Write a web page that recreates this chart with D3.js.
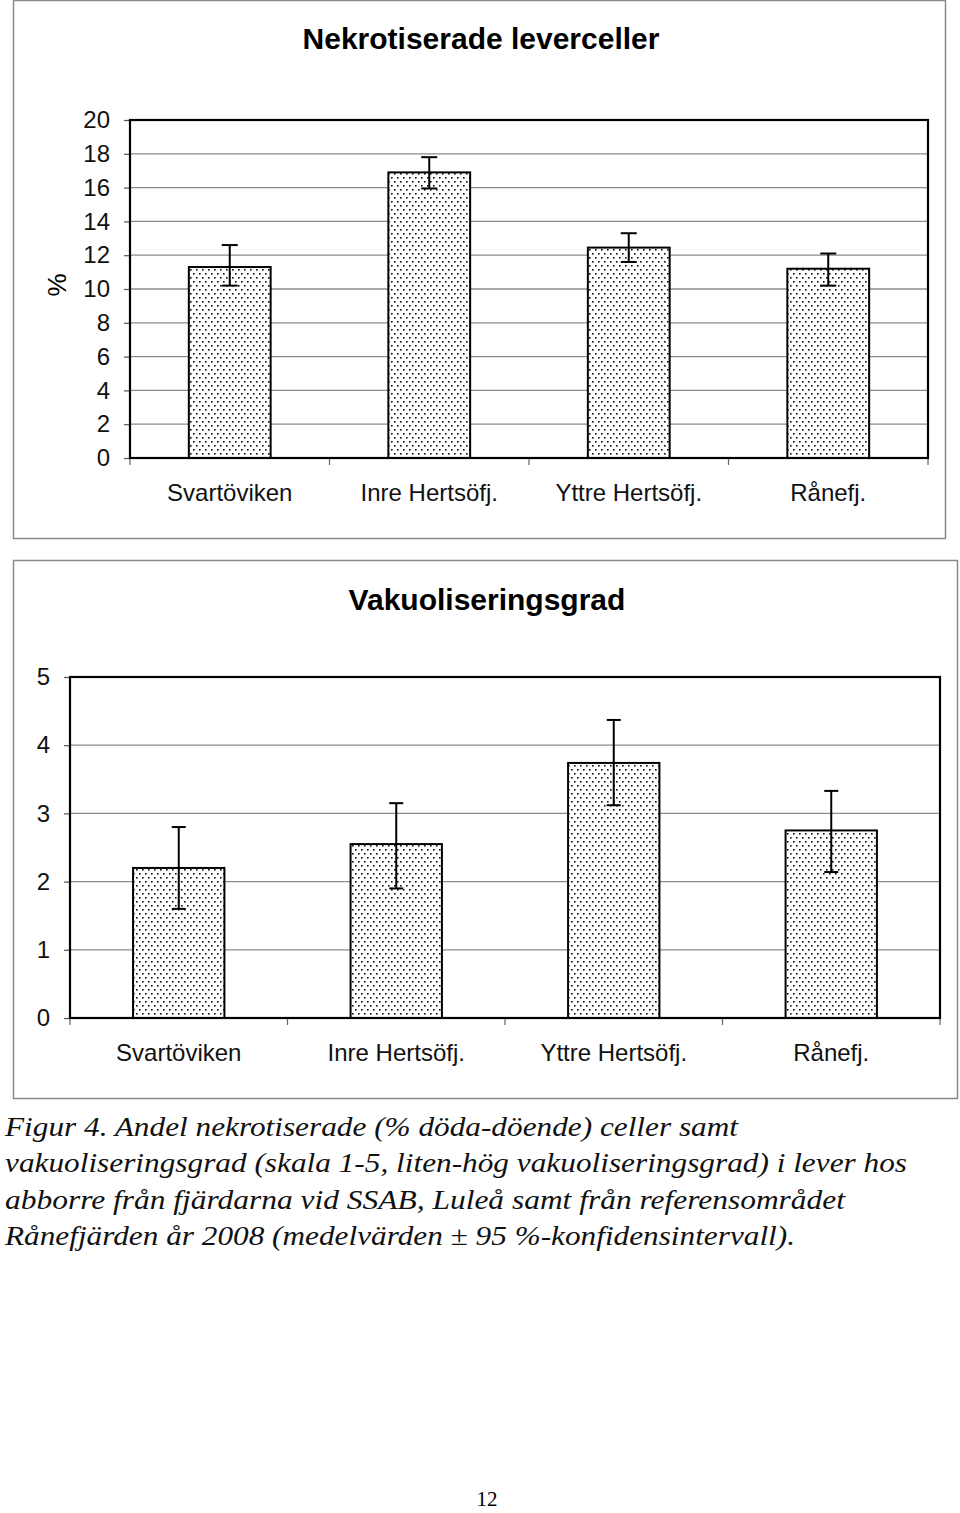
<!DOCTYPE html>
<html>
<head>
<meta charset="utf-8">
<script src="https://cdn.jsdelivr.net/npm/d3@7"></script>
<style>
  html, body { margin: 0; padding: 0; background: #fff; }
  svg { display: block; }
</style>
</head>
<body>
<svg id="fig" width="960" height="1513"></svg>
<script>
// ---------- DATA ----------
const categories = ["Svartöviken", "Inre Hertsöfj.", "Yttre Hertsöfj.", "Rånefj."];

const nekrosTitle = "Nekrotiserade leverceller";
const nekrosMean = [11.3, 16.9, 12.45, 11.2];
const nekrosLow  = [10.2, 15.95, 11.6, 10.2];
const nekrosHigh = [12.6, 17.8, 13.3, 12.1];
const nekrosTicks = [0, 2, 4, 6, 8, 10, 12, 14, 16, 18, 20];

const vakTitle = "Vakuoliseringsgrad";
const vakMean = [2.2, 2.55, 3.74, 2.75];
const vakLow  = [1.6, 1.9, 3.12, 2.14];
const vakHigh = [2.8, 3.15, 4.37, 3.33];
const vakTicks = [0, 1, 2, 3, 4, 5];

const captionLines = [
  "Figur 4. Andel nekrotiserade (% döda-döende) celler samt",
  "vakuoliseringsgrad (skala 1-5, liten-hög vakuoliseringsgrad) i lever hos",
  "abborre från fjärdarna vid SSAB, Luleå samt från referensområdet",
  "Rånefjärden år 2008 (medelvärden ± 95 %-konfidensintervall)."
];
const captionWidths = [733, 902, 840, 790];
const pageNumber = "12";

// ---------- DRAW ----------
const svg = d3.select("#fig");
const sans = "'Liberation Sans', Arial, sans-serif";
const serif = "'Liberation Serif', 'Times New Roman', serif";

const defs = svg.append("defs");
const pat = defs.append("pattern")
  .attr("id", "dots").attr("patternUnits", "userSpaceOnUse")
  .attr("width", 6).attr("height", 8);
pat.append("rect").attr("width", 6).attr("height", 8).attr("fill", "#fff");
pat.append("rect").attr("x", 1).attr("y", 1).attr("width", 1.6).attr("height", 1.6).attr("fill", "#111");
pat.append("rect").attr("x", 4).attr("y", 5).attr("width", 1.6).attr("height", 1.6).attr("fill", "#111");

function drawChart(cfg) {
  const g = svg.append("g");
  g.append("rect")
    .attr("x", cfg.frame[0] + 0.5).attr("y", cfg.frame[1] + 0.5)
    .attr("width", cfg.frame[2] - cfg.frame[0]).attr("height", cfg.frame[3] - cfg.frame[1])
    .attr("fill", "#fff").attr("stroke", "#8a8a8a").attr("stroke-width", 1.5);

  g.append("text")
    .attr("x", cfg.titleX).attr("y", cfg.titleY)
    .attr("text-anchor", "middle")
    .attr("font-family", sans).attr("font-weight", "bold")
    .attr("font-size", cfg.titleSize)
    .text(cfg.title);

  const x = d3.scaleBand().domain(categories).range([cfg.left, cfg.right]).paddingInner(0).paddingOuter(0);
  const y = d3.scaleLinear().domain([0, d3.max(cfg.ticks)]).range([cfg.bottom, cfg.top]);

  g.append("g").selectAll("line")
    .data(cfg.ticks.filter(t => t > 0 && t < d3.max(cfg.ticks)))
    .join("line")
    .attr("x1", cfg.left).attr("x2", cfg.right)
    .attr("y1", d => y(d)).attr("y2", d => y(d))
    .attr("stroke", "#8c8c8c").attr("stroke-width", 1.3);

  const yAxis = d3.axisLeft(y).tickValues(cfg.ticks).tickFormat(d3.format("d"))
    .tickSize(6).tickPadding(cfg.tickPad);
  const ya = g.append("g").attr("transform", `translate(${cfg.left},0)`).call(yAxis);
  ya.select(".domain").remove();
  ya.selectAll(".tick line").attr("stroke", "#555").attr("stroke-width", 1.2);
  ya.selectAll(".tick text")
    .attr("font-family", sans).attr("font-size", 24).attr("fill", "#111");

  const xa = d3.axisBottom(x).tickSize(0).tickPadding(cfg.xLabelPad);
  const xg = g.append("g").attr("transform", `translate(0,${cfg.bottom})`).call(xa);
  xg.select(".domain").remove();
  xg.selectAll(".tick text")
    .attr("font-family", sans).attr("font-size", 24).attr("fill", "#111");
  const bounds = categories.map(c => x(c)).concat([cfg.right]);
  g.append("g").selectAll("line").data(bounds).join("line")
    .attr("x1", d => d).attr("x2", d => d)
    .attr("y1", cfg.bottom).attr("y2", cfg.bottom + 7)
    .attr("stroke", "#666").attr("stroke-width", 1.2);

  const bw = x.bandwidth() * cfg.barFrac;
  g.append("g").selectAll("rect")
    .data(categories)
    .join("rect")
    .attr("x", (d) => x(d) + (x.bandwidth() - bw) / 2)
    .attr("y", (d, i) => y(cfg.mean[i]))
    .attr("width", bw)
    .attr("height", (d, i) => y(0) - y(cfg.mean[i]))
    .attr("fill", "url(#dots)")
    .attr("stroke", "#000").attr("stroke-width", 2);

  g.append("rect")
    .attr("x", cfg.left).attr("y", cfg.top)
    .attr("width", cfg.right - cfg.left).attr("height", cfg.bottom - cfg.top)
    .attr("fill", "none").attr("stroke", "#000").attr("stroke-width", 2.2);

  const eb = g.append("g").attr("stroke", "#000").attr("stroke-width", 2);
  categories.forEach((c, i) => {
    const cx = x(c) + x.bandwidth() / 2;
    eb.append("line").attr("x1", cx).attr("x2", cx)
      .attr("y1", y(cfg.low[i])).attr("y2", y(cfg.high[i]));
    eb.append("line").attr("x1", cx - cfg.cap).attr("x2", cx + cfg.cap)
      .attr("y1", y(cfg.high[i])).attr("y2", y(cfg.high[i]));
    eb.append("line").attr("x1", cx - cfg.cap).attr("x2", cx + cfg.cap)
      .attr("y1", y(cfg.low[i])).attr("y2", y(cfg.low[i]));
  });

  if (cfg.yLabel) {
    g.append("text")
      .attr("transform", `translate(${cfg.yLabelX},${(cfg.top + cfg.bottom) / 2 - 4}) rotate(-90)`)
      .attr("text-anchor", "middle").attr("dominant-baseline", "central")
      .attr("font-family", sans).attr("font-size", 26)
      .text(cfg.yLabel);
  }
}

drawChart({
  frame: [13, 0, 945, 538],
  title: nekrosTitle, titleX: 481, titleY: 49, titleSize: 30,
  left: 130, right: 928, top: 120, bottom: 458,
  ticks: nekrosTicks, mean: nekrosMean, low: nekrosLow, high: nekrosHigh,
  barFrac: 0.41, cap: 8, tickPad: 14, xLabelPad: 26,
  yLabel: "%", yLabelX: 57
});

drawChart({
  frame: [13, 560, 957, 1098],
  title: vakTitle, titleX: 487, titleY: 610, titleSize: 30,
  left: 70, right: 940, top: 677, bottom: 1018,
  ticks: vakTicks, mean: vakMean, low: vakLow, high: vakHigh,
  barFrac: 0.42, cap: 7, tickPad: 14, xLabelPad: 26
});

// caption
const cap = svg.append("g")
  .attr("font-family", serif).attr("font-style", "italic").attr("font-size", 28).attr("fill", "#111");
cap.selectAll("text").data(captionLines).join("text")
  .attr("x", 5).attr("y", (d, i) => 1136 + i * 36.3)
  .attr("textLength", (d, i) => captionWidths[i])
  .attr("lengthAdjust", "spacingAndGlyphs")
  .text(d => d);

svg.append("text")
  .attr("x", 487).attr("y", 1506)
  .attr("text-anchor", "middle")
  .attr("font-family", serif).attr("font-size", 21)
  .text(pageNumber);
</script>
</body>
</html>
